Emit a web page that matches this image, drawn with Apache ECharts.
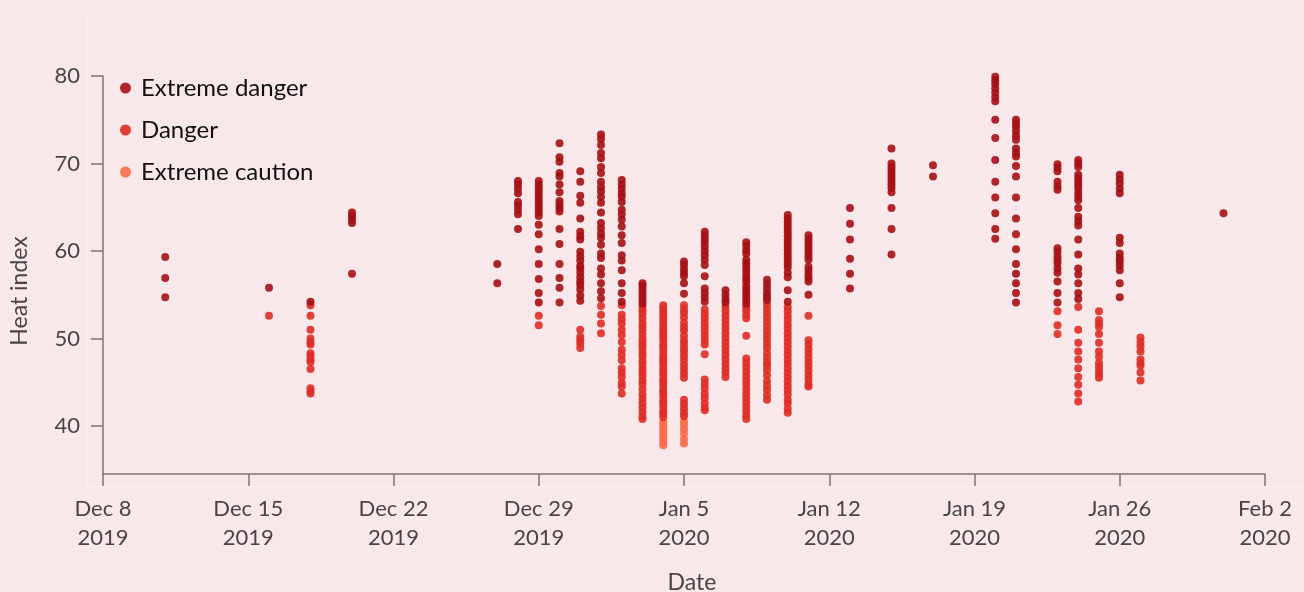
<!DOCTYPE html>
<html>
<head>
<meta charset="utf-8">
<title>Heat index</title>
<script src="https://cdn.jsdelivr.net/npm/echarts@6/dist/echarts.min.js"></script>
<style>
  html, body { margin: 0; padding: 0; background: #f8e8ea; }
  #chart { width: 1304px; height: 592px; }
</style>
</head>
<body>
<div id="chart"></div>
<script>
// Observation days (one column of readings per day)
const days = [
  '2019-12-11', '2019-12-16', '2019-12-18', '2019-12-20', '2019-12-27',
  '2019-12-28', '2019-12-29', '2019-12-30', '2019-12-31', '2020-01-01',
  '2020-01-02', '2020-01-03', '2020-01-04', '2020-01-05', '2020-01-06',
  '2020-01-07', '2020-01-08', '2020-01-09', '2020-01-10', '2020-01-11',
  '2020-01-13', '2020-01-15', '2020-01-17', '2020-01-20', '2020-01-21',
  '2020-01-23', '2020-01-24', '2020-01-25', '2020-01-26', '2020-01-27',
  '2020-01-31'
];

// Heat index readings for each day, same order as `days`
const heatIndex = [
  [59.3, 56.9, 54.7],
  [55.8, 52.6],
  [54.2, 53.8, 52.6, 51.0, 50.0, 49.6, 49.3, 48.3, 48.0, 47.6, 47.3, 46.5, 44.3, 44.0, 43.7],
  [64.4, 64.0, 63.6, 63.2, 57.4],
  [58.5, 56.3],
  [68.0, 67.6, 67.1, 66.6, 65.6, 65.2, 64.7, 64.2, 62.5],
  [68.0, 67.6, 67.2, 66.8, 66.4, 66.0, 65.6, 65.2, 64.8, 64.4, 64.0, 63.0, 61.9, 60.2, 58.5, 56.8, 55.2, 54.1, 52.6, 51.5],
  [72.3, 70.7, 70.2, 68.9, 68.5, 67.6, 66.7, 65.7, 65.3, 64.9, 64.5, 62.5, 60.8, 58.5, 56.9, 55.8, 54.1],
  [69.1, 67.9, 66.3, 65.5, 63.7, 62.2, 61.7, 61.3, 59.9, 59.4, 58.9, 58.3, 58.0, 57.5, 57.0, 56.5, 56.1, 55.6, 54.9, 54.3, 51.0, 50.2, 49.8, 49.4, 48.9],
  [73.3, 72.8, 72.1, 71.2, 70.6, 69.6, 68.9, 67.9, 67.3, 66.8, 66.2, 65.5, 64.4, 63.2, 62.6, 62.0, 61.5, 60.7, 59.7, 59.2, 58.0, 57.3, 56.3, 55.4, 54.6, 53.7, 52.7, 51.7, 50.6],
  [68.1, 67.6, 67.1, 66.6, 66.2, 65.6, 64.7, 64.2, 63.6, 62.8, 61.8, 60.9, 59.5, 58.9, 57.8, 56.3, 55.2, 54.2, 53.8, 52.7, 52.2, 51.7, 51.0, 50.4, 49.6, 48.7, 48.1, 47.5, 46.6, 46.1, 45.6, 44.9, 44.5, 43.7],
  [56.3, 56.0, 55.6, 55.2, 54.8, 54.4, 54.0, 53.6, 53.2, 52.8, 52.3, 51.8, 51.4, 51.0, 50.5, 50.0, 49.6, 49.2, 48.8, 48.3, 47.9, 47.4, 47.0, 46.5, 46.1, 45.7, 45.2, 44.8, 44.2, 43.6, 43.1, 42.6, 42.1, 41.6, 41.1, 40.8],
  [53.8, 53.4, 53.0, 52.6, 52.2, 51.8, 51.3, 50.9, 50.5, 50.2, 49.8, 49.3, 49.0, 48.6, 48.1, 47.7, 47.4, 47.0, 46.5, 46.2, 45.8, 45.3, 45.0, 44.6, 44.1, 43.8, 43.4, 42.9, 42.6, 42.2, 41.7, 41.4, 41.0, 40.4, 40.1, 39.7, 39.3, 38.9, 38.5, 38.1, 37.8],
  [58.8, 58.4, 57.9, 57.5, 57.1, 56.3, 55.1, 53.8, 53.3, 52.9, 52.4, 51.8, 51.3, 50.9, 50.3, 49.8, 49.4, 48.9, 48.5, 48.0, 47.5, 47.0, 46.5, 46.0, 45.5, 43.0, 42.5, 42.0, 41.5, 41.1, 40.5, 40.1, 39.6, 39.1, 38.5, 38.0],
  [62.2, 61.8, 61.4, 61.0, 60.5, 60.0, 59.5, 59.0, 58.4, 57.1, 55.7, 55.2, 54.7, 54.2, 53.3, 52.8, 52.3, 51.8, 51.3, 50.8, 50.3, 49.8, 49.3, 48.2, 45.3, 44.8, 44.3, 43.7, 43.2, 42.6, 42.1, 41.8],
  [55.5, 55.0, 54.5, 54.1, 53.6, 53.1, 52.6, 52.1, 51.6, 51.1, 50.6, 50.1, 49.6, 49.1, 48.6, 48.1, 47.6, 47.1, 46.6, 46.1, 45.6],
  [61.0, 60.6, 60.1, 59.7, 59.0, 58.6, 58.2, 57.8, 57.3, 56.9, 56.5, 56.0, 55.6, 55.2, 54.8, 54.4, 54.0, 53.6, 53.2, 52.7, 52.3, 50.3, 47.7, 47.2, 46.7, 46.2, 45.7, 45.2, 44.7, 44.2, 43.7, 43.2, 42.7, 42.2, 41.7, 41.2, 40.8],
  [56.7, 56.2, 55.7, 55.2, 54.8, 54.4, 53.9, 53.4, 52.9, 52.4, 51.9, 51.4, 50.9, 50.4, 49.9, 49.4, 48.9, 48.3, 47.8, 47.3, 46.9, 46.4, 45.8, 45.1, 44.6, 44.1, 43.5, 43.0],
  [64.1, 63.7, 63.3, 62.9, 62.5, 62.1, 61.7, 61.3, 60.9, 60.5, 60.1, 59.7, 59.3, 58.9, 58.5, 58.1, 57.5, 57.0, 55.5, 54.2, 53.6, 53.1, 52.6, 52.1, 51.6, 51.1, 50.6, 50.1, 49.6, 49.1, 48.6, 48.1, 47.6, 47.1, 46.6, 46.1, 45.6, 45.1, 44.6, 44.1, 43.6, 43.0, 42.6, 42.0, 41.5],
  [61.8, 61.4, 61.0, 60.6, 60.2, 59.8, 59.4, 59.0, 58.2, 57.8, 57.3, 56.9, 56.5, 55.0, 52.6, 49.8, 49.3, 48.8, 48.3, 47.8, 47.3, 46.8, 46.3, 45.8, 45.3, 44.8, 44.5],
  [64.9, 63.1, 61.3, 59.1, 57.4, 55.7],
  [71.7, 70.0, 69.6, 69.2, 68.8, 68.4, 68.0, 67.6, 67.2, 66.7, 64.9, 62.5, 59.6],
  [69.8, 68.5],
  [79.9, 79.5, 79.1, 78.6, 78.1, 77.6, 77.1, 75.0, 72.9, 70.4, 67.9, 66.1, 64.3, 62.5, 61.4],
  [75.0, 74.6, 74.2, 73.7, 73.2, 72.7, 71.7, 71.2, 70.8, 69.7, 68.5, 66.1, 63.7, 61.9, 60.2, 58.5, 57.4, 56.3, 55.2, 54.1],
  [69.9, 69.5, 69.1, 67.9, 67.4, 67.0, 60.3, 59.9, 59.4, 59.0, 58.6, 58.0, 57.5, 56.5, 55.2, 54.1, 53.1, 51.5, 50.5],
  [70.4, 70.0, 69.6, 68.7, 68.3, 67.9, 67.5, 67.1, 66.6, 66.2, 65.8, 64.9, 63.9, 63.4, 62.9, 61.3, 59.6, 58.0, 57.3, 56.3, 55.2, 54.5, 53.6, 51.0, 49.5, 48.5, 47.6, 46.6, 45.6, 44.7, 43.7, 42.8],
  [53.1, 52.1, 51.7, 51.3, 50.5, 49.5, 48.5, 47.9, 47.2, 46.8, 46.3, 45.9, 45.5],
  [68.7, 68.2, 67.7, 67.1, 66.6, 61.5, 60.9, 59.7, 59.2, 58.8, 58.3, 57.8, 56.3, 54.7],
  [50.1, 49.6, 49.1, 48.5, 47.6, 47.2, 46.9, 46.1, 45.2],
  [64.3]
];

// Heat index categories: name, lower bound, colour
const categoryNames = ['Extreme danger', 'Danger', 'Extreme caution'];
const categoryLowerBounds = [54, 40.6, -Infinity];
const categoryColors = ['#a50f15', '#de2d26', '#fb6a4a'];

// Axis ticks
const yTickValues = [40, 50, 60, 70, 80];
const xStartDate = '2019-12-08';
const xEndDate = '2020-02-02';

const DAY = 86400000;
const MONTHS = ['Jan', 'Feb', 'Mar', 'Apr', 'May', 'Jun', 'Jul', 'Aug', 'Sep', 'Oct', 'Nov', 'Dec'];

function toTime(iso) {
  const p = iso.split('-').map(Number);
  return Date.UTC(p[0], p[1] - 1, p[2]);
}

function categoryOf(v) {
  for (let i = 0; i < categoryLowerBounds.length; i++) {
    if (v >= categoryLowerBounds[i]) return i;
  }
  return categoryLowerBounds.length - 1;
}

const seriesData = categoryNames.map(() => []);
days.forEach((d, i) => {
  const t = toTime(d);
  heatIndex[i].forEach(v => seriesData[categoryOf(v)].push([t, v]));
});

const axisColor = '#7a7677';
const labelColor = '#474547';
const fontFamily = 'Lato, "Noto Sans", sans-serif';

const chart = echarts.init(document.getElementById('chart'), null, { renderer: 'canvas' });

chart.setOption({
  backgroundColor: '#f8e8ea',
  animation: false,
  textStyle: { fontFamily: fontFamily },
  graphic: [{
    // faint panel outline behind the plot
    type: 'polyline',
    silent: true,
    z: -10,
    shape: { points: [[1304, 13], [87, 13], [87, 487], [1304, 487]] },
    style: { stroke: '#fbf0f1', lineWidth: 1, fill: null }
  }],
  grid: { left: 103, right: 39, top: 76, bottom: 118, containLabel: false, outerBoundsMode: 'none' },
  legend: {
    orient: 'vertical',
    left: 115,
    top: 71,
    itemGap: 18,
    itemWidth: 11,
    itemHeight: 11,
    icon: 'circle',
    data: categoryNames,
    textStyle: { fontSize: 24, color: '#111', fontFamily: fontFamily, padding: [0, 0, 0, 5] }
  },
  xAxis: {
    type: 'value',
    min: toTime(xStartDate),
    max: toTime(xEndDate),
    interval: 7 * DAY,
    name: 'Date',
    nameLocation: 'middle',
    nameGap: 97,
    nameTextStyle: { fontSize: 23, color: labelColor, fontFamily: fontFamily, padding: [0, 0, 0, 16] },
    splitLine: { show: false },
    axisLine: { show: true, lineStyle: { color: axisColor, width: 1.5 } },
    axisTick: { show: true, length: 12, lineStyle: { color: axisColor, width: 1.5 } },
    axisLabel: {
      margin: 20,
      fontSize: 22,
      lineHeight: 29,
      color: labelColor,
      fontFamily: fontFamily,
      showMinLabel: true,
      showMaxLabel: true,
      formatter: function (val) {
        const d = new Date(val);
        return MONTHS[d.getUTCMonth()] + ' ' + d.getUTCDate() + '\n' + d.getUTCFullYear();
      }
    }
  },
  yAxis: {
    type: 'value',
    min: 34.5,
    max: 80,
    name: 'Heat index',
    nameLocation: 'middle',
    nameGap: 72,
    nameTextStyle: { fontSize: 23, color: labelColor, fontFamily: fontFamily, padding: [0, 32, 0, 0] },
    splitLine: { show: false },
    axisLine: { show: true, lineStyle: { color: axisColor, width: 1.5 } },
    axisTick: { show: true, length: 12, customValues: yTickValues, lineStyle: { color: axisColor, width: 1.5 } },
    axisLabel: {
      margin: 23,
      fontSize: 22,
      color: labelColor,
      fontFamily: fontFamily,
      customValues: yTickValues
    }
  },
  series: categoryNames.map((name, i) => ({
    name: name,
    type: 'scatter',
    symbol: 'circle',
    symbolSize: 8,
    data: seriesData[i],
    itemStyle: { color: categoryColors[i], opacity: 0.9 },
    z: 3 - i
  }))
});
</script>
</body>
</html>
